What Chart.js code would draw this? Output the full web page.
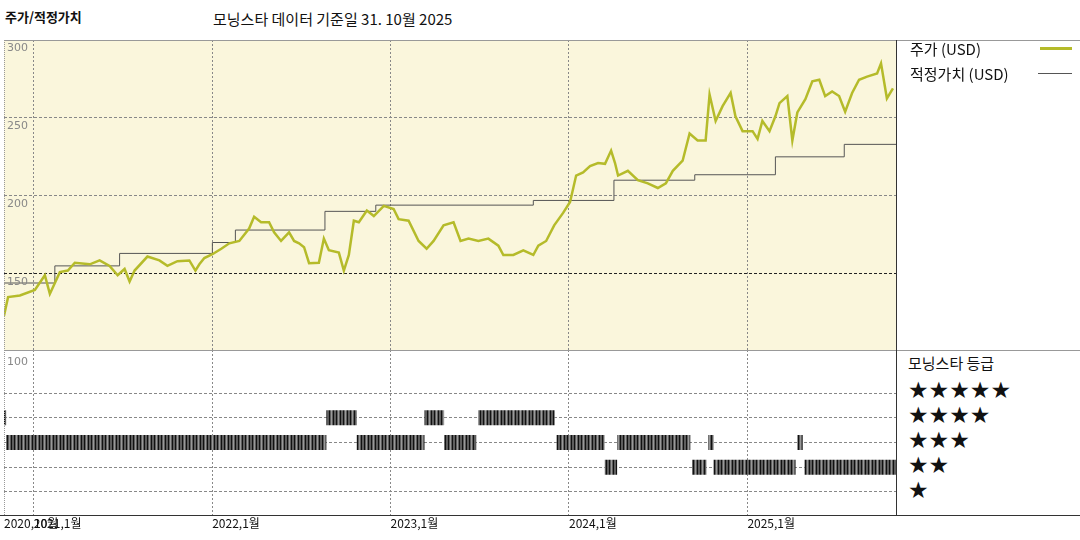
<!DOCTYPE html>
<html>
<head>
<meta charset="utf-8">
<script src="https://cdn.jsdelivr.net/npm/chart.js@4"></script>
<style>
  body { margin: 0; width: 1080px; height: 540px; background: #fff; position: relative; overflow: hidden;
         font-family: "Noto Sans CJK KR", "DejaVu Sans", sans-serif; }
  .abs { position: absolute; }
  .txt { position: absolute; white-space: nowrap; color: #111; }
  .ln { position: absolute; background: #777; }
</style>
</head>
<body>
<div class="txt" style="left:5px;top:7px;font-size:13px;font-weight:bold;">주가/적정가치</div>
<div class="txt" style="left:213px;top:8px;font-size:15px;">모닝스타 데이터 기준일 31. 10월 2025</div>

<div class="abs" style="left:4px;top:40px;width:892px;height:310px;background:#faf6dc;">
  <canvas id="priceChart" width="892" height="310"></canvas>
</div>
<div class="abs" style="left:4px;top:350px;width:892px;height:190px;">
  <canvas id="ratingChart" width="892" height="190"></canvas>
</div>

<!-- frame -->
<div class="ln" style="left:4px;top:40px;width:1076px;height:1px;background:#999;"></div>
<div class="ln" style="left:4px;top:350px;width:1076px;height:1px;background:#999;"></div>
<div class="ln" style="left:0px;top:515px;width:1080px;height:1px;background:#333;"></div>
<div class="ln" style="left:896px;top:40px;width:1px;height:475px;background:#333;"></div>
<div class="ln" style="left:4px;top:40px;width:0;height:475px;border-left:1px dotted #999;background:none;"></div>

<!-- legend -->
<div class="txt" style="left:910px;top:38px;font-size:15px;">주가 (USD)</div>
<div class="ln" style="left:1040px;top:47px;width:32px;height:3px;background:#b5bb2a;"></div>
<div class="txt" style="left:910px;top:63px;font-size:15px;">적정가치 (USD)</div>
<div class="ln" style="left:1038px;top:73px;width:34px;height:1px;background:#555;"></div>
<div class="txt" style="left:908px;top:352px;font-size:15px;">모닝스타 등급</div>
<div id="stars"></div>

<script>
// decimal years on the x axis
const xMin = 2020.833;
const xMax = 2025.833;
const yearTicks = [2021, 2022, 2023, 2024, 2025];
const yearLabels = ['2021,1월', '2022,1월', '2023,1월', '2024,1월', '2025,1월'];
const firstLabel = '2020,10월';

const priceYears = [2020.833, 2020.856, 2020.922, 2021.006, 2021.062, 2021.090, 2021.146, 2021.191, 2021.230,
  2021.314, 2021.369, 2021.425, 2021.470, 2021.509, 2021.537, 2021.565, 2021.637, 2021.704, 2021.749, 2021.805,
  2021.872, 2021.906, 2021.928, 2021.956, 2022.001, 2022.051, 2022.096, 2022.152, 2022.207, 2022.235, 2022.274,
  2022.319, 2022.347, 2022.386, 2022.431, 2022.459, 2022.487, 2022.515, 2022.543, 2022.598, 2022.626, 2022.654,
  2022.710, 2022.738, 2022.766, 2022.794, 2022.822, 2022.867, 2022.906, 2022.962, 2023.017, 2023.045, 2023.101,
  2023.157, 2023.202, 2023.241, 2023.297, 2023.353, 2023.392, 2023.437, 2023.492, 2023.548, 2023.604, 2023.632,
  2023.688, 2023.744, 2023.800, 2023.828, 2023.872, 2023.917, 2023.967, 2024.006, 2024.040, 2024.079, 2024.118,
  2024.163, 2024.202, 2024.236, 2024.258, 2024.275, 2024.330, 2024.386, 2024.442, 2024.498, 2024.543, 2024.582,
  2024.637, 2024.676, 2024.721, 2024.766, 2024.788, 2024.822, 2024.861, 2024.906, 2024.933, 2024.973, 2025.029,
  2025.057, 2025.084, 2025.124, 2025.157, 2025.180, 2025.224, 2025.252, 2025.280, 2025.325, 2025.364, 2025.403,
  2025.436, 2025.475, 2025.514, 2025.548, 2025.587, 2025.626, 2025.671, 2025.727, 2025.749, 2025.771, 2025.782,
  2025.816];
const priceValues = [123, 135, 136, 139.5, 149, 137, 151, 152, 157,
  156, 158.5, 155, 149, 153, 145, 152, 161, 158.5, 155, 158,
  158.5, 152, 156, 160, 162.5, 166, 169.5, 171, 179, 186.5, 183,
  183, 176.5, 171, 176.5, 171, 169.5, 167, 156.7, 157, 172.5, 165,
  163.5, 152, 162, 184, 183, 190.5, 187, 193.5, 191.5, 185, 184,
  171, 166, 171, 181, 183, 171, 172.5, 171, 172.5, 168, 162,
  162, 165, 162, 168, 171, 181, 189, 196, 213, 215, 219,
  221, 220.5, 229, 221, 213, 216, 210, 208, 205, 208, 216,
  222.5, 240, 235.5, 235.5, 265, 248, 257.5, 266, 251, 241.5, 241.5,
  236.5, 248, 241.5, 251, 259.5, 264, 235.5, 253.5, 262, 273.5, 274.5,
  264, 267, 264, 254, 266, 274.5, 276.5, 278.5, 285, 270, 262.5,
  269];

// fair value steps: value holds from each start year to the next
const fairStarts = [2020.833, 2021.118, 2021.481, 2022.001, 2022.130, 2022.632, 2022.917, 2023.800,
  2024.252, 2024.705, 2025.157, 2025.543];
const fairValues = [144, 155, 163, 170, 178, 190, 194, 197, 210, 213.5, 225, 233];

// star rating segments
const ratingStart = [2020.833, 2020.845, 2022.640, 2022.810, 2023.190, 2023.300, 2023.490, 2023.930, 2024.200,
  2024.270, 2024.690, 2024.780, 2024.810, 2025.280, 2025.320];
const ratingEnd = [2020.845, 2022.640, 2022.810, 2023.190, 2023.300, 2023.480, 2023.920, 2024.200, 2024.270,
  2024.680, 2024.770, 2024.810, 2025.270, 2025.310, 2025.833];
const ratingLevel = [4, 3, 4, 3, 4, 3, 4, 3, 2, 3, 2, 3, 2, 3, 2];

const priceTicks = [150, 200, 250, 300];
const starRows = [5, 4, 3, 2, 1];

const priceData = priceYears.map((x, i) => ({ x: x, y: priceValues[i] }));
const fairData = fairStarts.map((x, i) => ({ x: x, y: fairValues[i] }));
fairData.push({ x: xMax, y: fairValues[fairValues.length - 1] });

const ratingData = [];
ratingStart.forEach((s, i) => {
  ratingData.push({ x: s, y: ratingLevel[i] }, { x: ratingEnd[i], y: ratingLevel[i] }, { x: ratingEnd[i], y: null });
});

// striped fill for rating bars
function stripePattern() {
  const c = document.createElement('canvas');
  c.width = 7; c.height = 4;
  const g = c.getContext('2d');
  g.fillStyle = '#5e5e5e'; g.fillRect(0, 0, 7, 4);
  g.fillStyle = '#111'; g.fillRect(0, 0, 1, 4); g.fillRect(3, 0, 1, 4);
  g.fillStyle = '#999'; g.fillRect(5, 0, 1, 4);
  return g.createPattern(c, 'repeat');
}

function xAxis() {
  return {
    type: 'linear', min: xMin, max: xMax,
    afterBuildTicks: a => { a.ticks = yearTicks.map(v => ({ value: v })); },
    ticks: { display: false },
    grid: { color: '#888', drawTicks: false, lineWidth: 1 },
    border: { display: false, dash: [2, 2] }
  };
}

const priceLabels = {
  id: 'priceLabels',
  afterDraw(chart) {
    const ctx = chart.ctx, y = chart.scales.y;
    ctx.save();
    ctx.font = '11px "DejaVu Sans"';
    ctx.fillStyle = '#888';
    ctx.textBaseline = 'top';
    priceTicks.forEach(v => ctx.fillText(String(v), 3, y.getPixelForValue(v) + 3));
    ctx.restore();
  }
};

const ratingLabels = {
  id: 'ratingLabels',
  afterDraw(chart) {
    const ctx = chart.ctx, x = chart.scales.x;
    ctx.save();
    ctx.font = '11px "DejaVu Sans"';
    ctx.fillStyle = '#888';
    ctx.textBaseline = 'top';
    ctx.fillText('100', 3, 7);
    ctx.font = '12px "Noto Sans CJK KR"';
    ctx.fillStyle = '#111';
    ctx.fillText(firstLabel, 0, 167);
    yearTicks.forEach((v, i) => ctx.fillText(yearLabels[i], x.getPixelForValue(v), 167));
    ctx.restore();
  }
};

new Chart(document.getElementById('priceChart'), {
  type: 'line',
  data: {
    datasets: [
      { data: fairData, stepped: 'before', borderColor: '#555', borderWidth: 1, pointRadius: 0, order: 2 },
      { data: priceData, borderColor: '#b5bb2a', borderWidth: 2.5, pointRadius: 0, tension: 0, order: 1 }
    ]
  },
  options: {
    responsive: false, animation: false,
    layout: { padding: 0 },
    plugins: { legend: { display: false }, tooltip: { enabled: false } },
    scales: {
      x: xAxis(),
      y: {
        min: 101, max: 300,
        afterBuildTicks: a => { a.ticks = priceTicks.map(v => ({ value: v })); },
        ticks: { display: false },
        grid: { color: c => c.tick && c.tick.value === 150 ? '#222' : '#888', drawTicks: false },
        border: { display: false, dash: [3, 2] }
      }
    }
  },
  plugins: [priceLabels]
});

new Chart(document.getElementById('ratingChart'), {
  type: 'line',
  data: {
    datasets: [
      { data: ratingData, borderColor: stripePattern(), borderWidth: 15, borderCapStyle: 'butt',
        pointRadius: 0, spanGaps: false }
    ]
  },
  options: {
    responsive: false, animation: false,
    layout: { padding: { bottom: 25 } },
    plugins: { legend: { display: false }, tooltip: { enabled: false } },
    scales: {
      x: xAxis(),
      y: {
        min: 0.07, max: 6.74,
        afterBuildTicks: a => { a.ticks = starRows.map(v => ({ value: v })); },
        ticks: { display: false },
        grid: { color: '#888', drawTicks: false },
        border: { display: false, dash: [3, 2] }
      }
    }
  },
  plugins: [ratingLabels]
});

// star labels in the right panel
const starsDiv = document.getElementById('stars');
const starTops = [377, 402, 427, 452, 477];
starRows.forEach((n, i) => {
  const d = document.createElement('div');
  d.className = 'txt';
  d.style.left = '908px';
  d.style.top = starTops[i] + 'px';
  d.style.fontSize = '23px';
  d.style.letterSpacing = '0px';
  d.style.fontFamily = '"DejaVu Sans"';
  d.textContent = '★'.repeat(n);
  starsDiv.appendChild(d);
});
</script>
</body>
</html>
